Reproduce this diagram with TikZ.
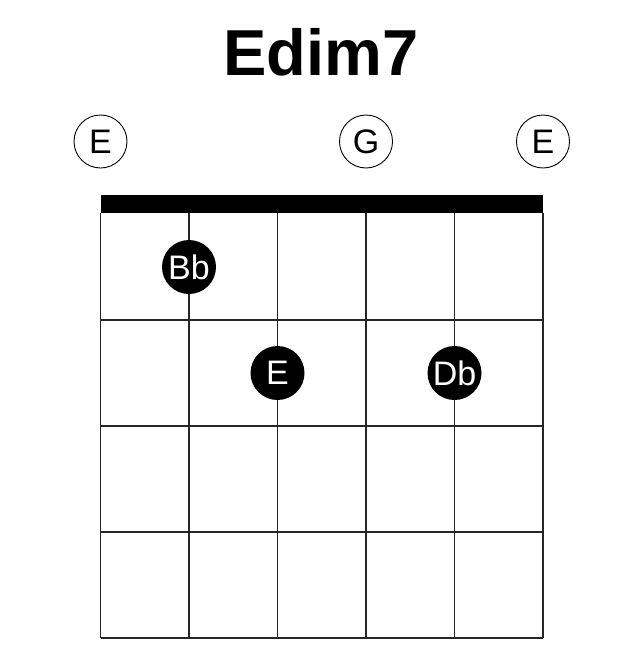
\documentclass[tikz,border=0pt]{standalone}
\usepackage{fontspec}
\setmainfont{Liberation Sans}
\usetikzlibrary{positioning}
\tikzset{%
  wire/.style={line width=1.2pt, black!85}, % strings and frets
  nutbar/.style={fill=black},
  chordname/.style={anchor=base, font=\bfseries\fontsize{65}{65}\selectfont},
  open/.style={circle, draw, line width=0.9pt, minimum size=53pt, inner sep=0pt,
    font=\fontsize{34}{34}\selectfont},
  finger/.style={circle, fill=black, text=white, minimum size=54pt, inner sep=0pt,
    font=\fontsize{34}{34}\selectfont}
}

\begin{document}
\begin{tikzpicture}[x=1pt, y=-1pt]
    \useasboundingbox (0,0) rectangle (644,656);
    \node[chordname] (name) at (321,75) {Edim7};

    % strings
    \foreach \x [count=\i] in {100.5,189,277.5,366,454.5,543}{
      \coordinate (top\i) at (\x,213);
      \coordinate (bot\i) at (\x,638);
      \draw[wire] (top\i) -- (bot\i);
    }
    % frets
    \foreach \y [count=\j] in {320,426,532,638}{
      \coordinate (left\j) at (100.5,\y);
      \coordinate (right\j) at (543,\y);
      \draw[wire] (left\j) -- (right\j);
    }
    \fill[nutbar] ([yshift=18pt]top1) rectangle (top6);

    % open strings
    \node[open] (o1) at (100.5,141.5) {E};
    \node[open] (o4) at (366,141.5) {G};
    \node[open] (o6) at (543,141.5) {E};

    % fingers
    \node[finger] (bb) at (189,267) {Bb};
    \node[finger] (e)  at (277.5,373) {E};
    \node[finger] (db) at (454.5,373) {Db};
\end{tikzpicture}
\end{document}
